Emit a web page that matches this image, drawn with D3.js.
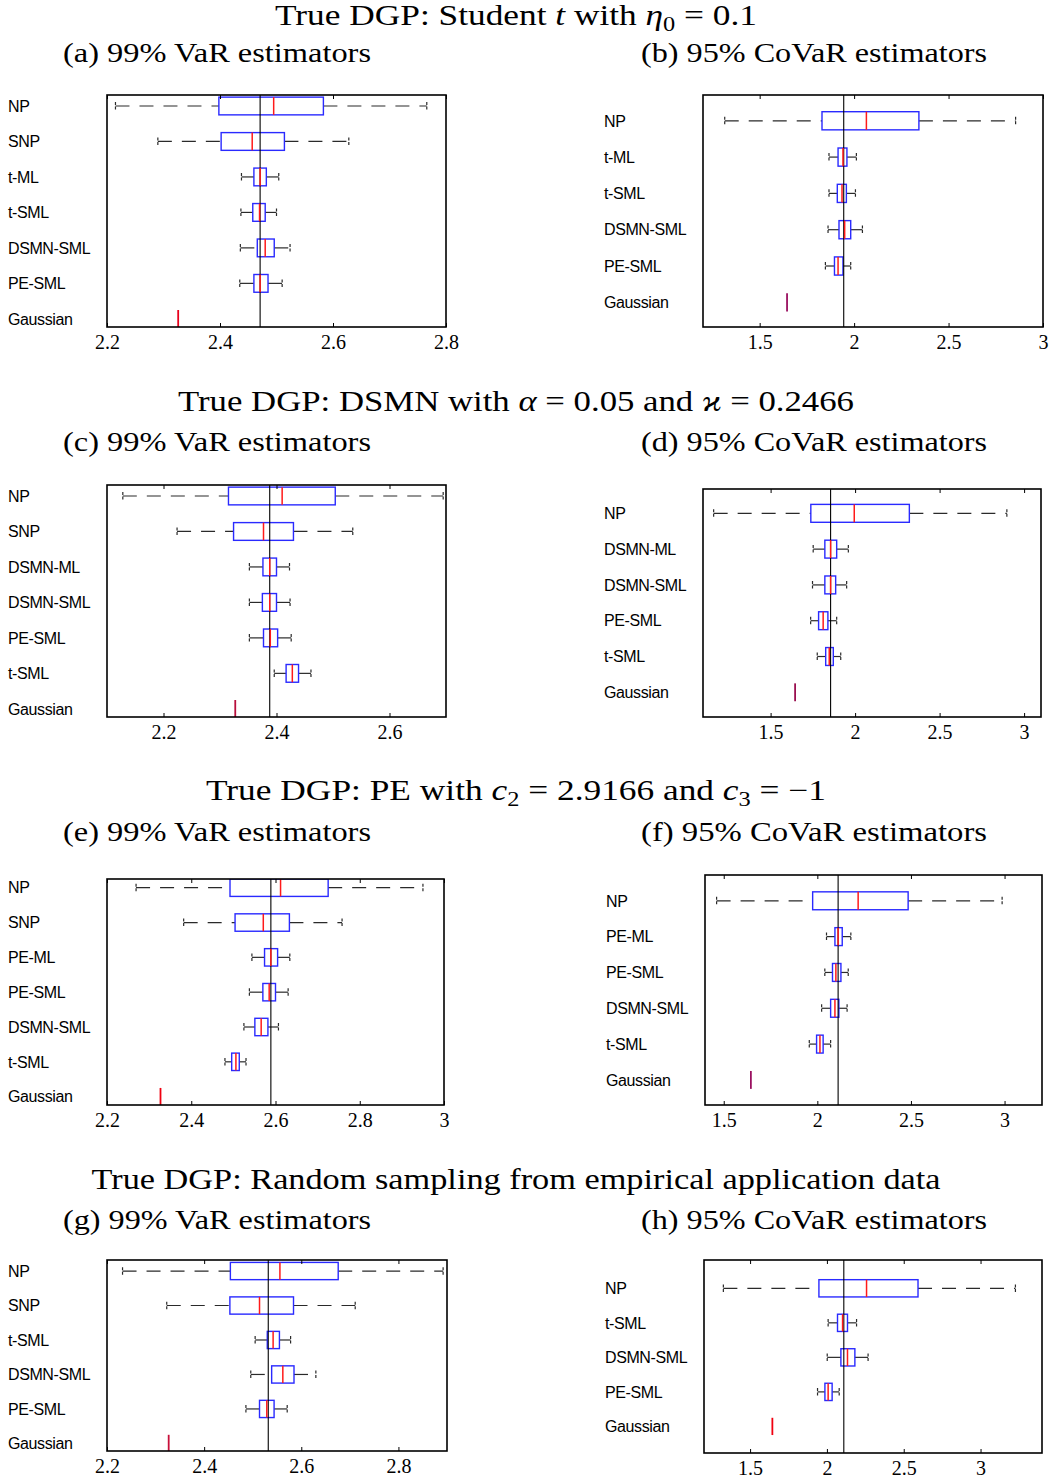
<!DOCTYPE html>
<html><head><meta charset="utf-8">
<script src="https://cdn.jsdelivr.net/npm/d3@7"></script>
<style>body{margin:0;background:#fff}</style>
</head><body>
<svg id="c" width="1054" height="1481" xmlns="http://www.w3.org/2000/svg"></svg>
<script>
// ---------- DATA (five-number summaries: [lower whisker, q1, median, q3, upper whisker]) ----------
const aLabels = ["NP","SNP","t-ML","t-SML","DSMN-SML","PE-SML","Gaussian"];
const aStats = [[2.215,2.398,2.495,2.583,2.766],[2.290,2.402,2.457,2.514,2.628],[2.438,2.460,2.471,2.482,2.504],
  [2.437,2.458,2.470,2.480,2.500],[2.436,2.466,2.480,2.496,2.524],[2.435,2.460,2.471,2.485,2.510],[2.326,2.326,2.326,2.326,2.326]];
const aTrue = 2.471, aTicks = [2.2,2.4,2.6,2.8];

const bLabels = ["NP","t-ML","t-SML","DSMN-SML","PE-SML","Gaussian"];
const bStats = [[1.315,1.830,2.065,2.343,2.855],[1.867,1.915,1.941,1.962,2.012],[1.867,1.911,1.936,1.959,2.007],
  [1.862,1.920,1.950,1.982,2.044],[1.848,1.896,1.915,1.941,1.982],[1.645,1.645,1.645,1.645,1.645]];
const bTrue = 1.945, bTicks = [1.5,2,2.5,3];

const cLabels = ["NP","SNP","DSMN-ML","DSMN-SML","PE-SML","t-SML","Gaussian"];
const cStats = [[2.128,2.315,2.410,2.504,2.695],[2.224,2.324,2.377,2.430,2.535],[2.352,2.376,2.388,2.400,2.423],
  [2.352,2.375,2.388,2.400,2.424],[2.352,2.377,2.389,2.402,2.426],[2.396,2.417,2.428,2.439,2.461],[2.327,2.327,2.327,2.327,2.327]];
const cTrue = 2.388, cTicks = [2.2,2.4,2.6];

const dLabels = ["NP","DSMN-ML","DSMN-SML","PE-SML","t-SML","Gaussian"];
const dStats = [[1.163,1.738,1.995,2.321,2.898],[1.752,1.821,1.855,1.891,1.960],[1.748,1.821,1.855,1.885,1.950],
  [1.737,1.784,1.811,1.839,1.891],[1.776,1.826,1.847,1.871,1.915],[1.645,1.645,1.645,1.645,1.645]];
const dTrue = 1.855, dTicks = [1.5,2,2.5,3];

const eLabels = ["NP","SNP","PE-ML","PE-SML","DSMN-SML","t-SML","Gaussian"];
const eStats = [[2.269,2.492,2.612,2.725,2.950],[2.382,2.504,2.571,2.633,2.758],[2.544,2.574,2.589,2.605,2.634],
  [2.538,2.570,2.585,2.600,2.630],[2.525,2.551,2.566,2.582,2.607],[2.480,2.496,2.506,2.514,2.530],[2.327,2.327,2.327,2.327,2.327]];
const eTrue = 2.589, eTicks = [2.2,2.4,2.6,2.8,3];

const fLabels = ["NP","PE-ML","PE-SML","DSMN-SML","t-SML","Gaussian"];
const fStats = [[1.462,1.975,2.218,2.485,2.987],[2.049,2.094,2.111,2.133,2.179],[2.040,2.081,2.099,2.126,2.165],
  [2.023,2.071,2.094,2.115,2.159],[1.957,1.996,2.014,2.031,2.071],[1.645,1.645,1.645,1.645,1.645]];
const fTrue = 2.111, fTicks = [1.5,2,2.5,3];

const gLabels = ["NP","SNP","t-SML","DSMN-SML","PE-SML","Gaussian"];
const gStats = [[2.232,2.454,2.556,2.676,2.892],[2.323,2.453,2.514,2.584,2.711],[2.505,2.530,2.542,2.555,2.578],
  [2.496,2.539,2.562,2.585,2.630],[2.486,2.514,2.529,2.544,2.571],[2.327,2.327,2.327,2.327,2.327]];
const gTrue = 2.532, gTicks = [2.2,2.4,2.6,2.8];

const hLabels = ["NP","t-SML","DSMN-SML","PE-SML","Gaussian"];
const hStats = [[1.326,1.948,2.258,2.593,3.227],[2.008,2.069,2.102,2.134,2.193],[2.002,2.091,2.134,2.182,2.268],
  [1.939,1.987,2.008,2.034,2.080],[1.645,1.645,1.645,1.645,1.645]];
const hTrue = 2.110, hTicks = [1.5,2,2.5,3];

// ---------- LAYOUT ----------
const svg = d3.select("#c");
const SERIF = "'Liberation Serif','DejaVu Serif',serif";
const SANS = "'Liberation Sans',Arial,sans-serif";

const panels = [
  {labels:aLabels, stats:aStats, tv:aTrue, ticks:aTicks, xd:[2.2,2.8], yd:[0.69,7.23], x0:107,x1:446,y0:95,y1:327, lx:8, gcol:"#e8001c"},
  {labels:bLabels, stats:bStats, tv:bTrue, ticks:bTicks, xd:[1.2,3.0], yd:[0.29,6.68], x0:703,x1:1043,y0:95,y1:327, lx:604, gcol:"#9a1060"},
  {labels:cLabels, stats:cStats, tv:cTrue, ticks:cTicks, xd:[2.1,2.7], yd:[0.69,7.23], x0:107,x1:446,y0:485,y1:717, lx:8, gcol:"#b80f3c"},
  {labels:dLabels, stats:dStats, tv:dTrue, ticks:dTicks, xd:[1.1,3.1], yd:[0.32,6.69], x0:703,x1:1041,y0:489,y1:717, lx:604, gcol:"#9a1050"},
  {labels:eLabels, stats:eStats, tv:eTrue, ticks:eTicks, xd:[2.2,3.0], yd:[0.75,7.24], x0:107,x1:444,y0:879,y1:1105, lx:8, gcol:"#f00010"},
  {labels:fLabels, stats:fStats, tv:fTrue, ticks:fTicks, xd:[1.4,3.2], yd:[0.28,6.70], x0:705,x1:1042,y0:875,y1:1105, lx:606, gcol:"#9a1060"},
  {labels:gLabels, stats:gStats, tv:gTrue, ticks:gTicks, xd:[2.2,2.9], yd:[0.68,6.22], x0:107,x1:447,y0:1260,y1:1451, lx:8, gcol:"#c8103a"},
  {labels:hLabels, stats:hStats, tv:hTrue, ticks:hTicks, xd:[1.2,3.4], yd:[0.18,5.77], x0:704,x1:1042,y0:1260,y1:1453, lx:605, gcol:"#f00010"}
];

const defs = svg.append("defs");

panels.forEach((p, pi) => {
  const x = d3.scaleLinear().domain(p.xd).range([p.x0, p.x1]);
  const y = d3.scaleLinear().domain(p.yd).range([p.y0, p.y1]);
  const bh = (y(2) - y(1)) * 0.5;
  const capH = bh * 0.45;
  const g = svg.append("g");
  defs.append("clipPath").attr("id","clip"+pi).append("rect")
    .attr("x",p.x0).attr("y",p.y0).attr("width",p.x1-p.x0).attr("height",p.y1-p.y0);
  const inner = g.append("g").attr("clip-path",`url(#clip${pi})`);

  // row labels
  g.selectAll("text.lab").data(p.labels).join("text").attr("class","lab")
    .attr("x", p.lx).attr("y", (d,i)=>y(i+1)).attr("dy","0.36em")
    .attr("font-family", SANS).attr("font-size", 16).attr("letter-spacing","-0.4")
    .attr("fill","#000").text(d=>d);

  // axes (ticks inside, top and bottom)
  const fmt = d => String(d);
  const ab = g.append("g").attr("transform",`translate(0,${p.y1})`)
    .call(d3.axisBottom(x).tickValues(p.ticks).tickSize(-4).tickPadding(8).tickFormat(fmt));
  const at = g.append("g").attr("transform",`translate(0,${p.y0})`)
    .call(d3.axisTop(x).tickValues(p.ticks).tickSize(-4).tickFormat(""));
  [ab,at].forEach(a=>{ a.select(".domain").remove(); a.selectAll("line").attr("stroke","#000").attr("stroke-width",1); });
  ab.selectAll("text").attr("font-family",SERIF).attr("font-size",20).attr("fill","#000");

  const rows = p.stats.map((s,i)=>({s, i, yc:y(i+1), deg: s[0]===s[4]}));
  const box = rows.filter(r=>!r.deg);
  const wcol = "#2a2a2a";
  // whiskers
  inner.selectAll("line.wl").data(box).join("line")
    .attr("x1",r=>x(r.s[0])).attr("x2",r=>x(r.s[1])).attr("y1",r=>r.yc).attr("y2",r=>r.yc)
    .attr("stroke",wcol).attr("stroke-width",1.2).attr("stroke-dasharray","14,10");
  inner.selectAll("line.wu").data(box).join("line")
    .attr("x1",r=>x(r.s[3])).attr("x2",r=>x(r.s[4])).attr("y1",r=>r.yc).attr("y2",r=>r.yc)
    .attr("stroke",wcol).attr("stroke-width",1.2).attr("stroke-dasharray","14,10");
  // caps
  ["lo","hi"].forEach((k,ki)=>{
    inner.selectAll("line.cap"+k).data(box).join("line")
      .attr("x1",r=>x(r.s[ki?4:0])).attr("x2",r=>x(r.s[ki?4:0]))
      .attr("y1",r=>r.yc-capH/2).attr("y2",r=>r.yc+capH/2)
      .attr("stroke",wcol).attr("stroke-width",1.2).attr("stroke-dasharray","3,1.5");
  });
  // boxes
  inner.selectAll("rect.bx").data(box).join("rect")
    .attr("x",r=>x(r.s[1])).attr("width",r=>x(r.s[3])-x(r.s[1]))
    .attr("y",r=>r.yc-bh/2).attr("height",bh)
    .attr("fill","none").attr("stroke","#2a2aff").attr("stroke-width",1.4);
  // true value line
  inner.append("line").attr("x1",x(p.tv)).attr("x2",x(p.tv)).attr("y1",p.y0).attr("y2",p.y1)
    .attr("stroke","#000").attr("stroke-width",1.1);
  // medians
  inner.selectAll("line.md").data(box).join("line")
    .attr("x1",r=>x(r.s[2])).attr("x2",r=>x(r.s[2])).attr("y1",r=>r.yc-bh/2).attr("y2",r=>r.yc+bh/2)
    .attr("stroke","#ff1a1a").attr("stroke-width",1.5);
  // degenerate (Gaussian)
  inner.selectAll("line.gs").data(rows.filter(r=>r.deg)).join("line")
    .attr("x1",r=>x(r.s[2])).attr("x2",r=>x(r.s[2])).attr("y1",r=>r.yc-bh/2).attr("y2",r=>r.yc+bh/2)
    .attr("stroke",p.gcol).attr("stroke-width",1.8);
  // frame
  g.append("rect").attr("x",p.x0).attr("y",p.y0).attr("width",p.x1-p.x0).attr("height",p.y1-p.y0)
    .attr("fill","none").attr("stroke","#000").attr("stroke-width",1.6);
});

// ---------- TITLES ----------
const titles = [
  {y:25, w:482, parts:[["True DGP: Student ",""],["t","i"],[" with ",""],["η","i"],["0","sub"],[" = 0.1",""]]},
  {y:411, w:676, parts:[["True DGP: DSMN with ",""],["α","i"],[" = 0.05 and ",""],["ϰ","i"],[" = 0.2466",""]]},
  {y:800, w:620, parts:[["True DGP: PE with ",""],["c","i"],["2","sub"],[" = 2.9166 and ",""],["c","i"],["3","sub"],[" = −1",""]]},
  {y:1189, w:849, parts:[["True DGP: Random sampling from empirical application data",""]]}
];
const subtitles = [
  {y:62, l:"(a) 99% VaR estimators", r:"(b) 95% CoVaR estimators"},
  {y:451, l:"(c) 99% VaR estimators", r:"(d) 95% CoVaR estimators"},
  {y:841, l:"(e) 99% VaR estimators", r:"(f) 95% CoVaR estimators"},
  {y:1229, l:"(g) 99% VaR estimators", r:"(h) 95% CoVaR estimators"}
];
titles.forEach(t=>{
  const tx = svg.append("text").attr("x",516).attr("y",t.y).attr("text-anchor","middle")
    .attr("font-family",SERIF).attr("font-size",29).attr("fill","#000")
    .attr("textLength",t.w).attr("lengthAdjust","spacingAndGlyphs");
  let prevSub = false;
  t.parts.forEach(([s,st])=>{
    const ts = tx.append("tspan").text(s);
    if(st==="i") ts.attr("font-style","italic");
    if(st==="sub"){ ts.attr("font-size",20).attr("dy",6); }
    else if(prevSub){ ts.attr("dy",-6); }
    prevSub = st==="sub";
  });
});
subtitles.forEach(s=>{
  svg.append("text").attr("x",217).attr("y",s.y).attr("text-anchor","middle")
    .attr("font-family",SERIF).attr("font-size",27).attr("fill","#000")
    .attr("textLength",308).attr("lengthAdjust","spacingAndGlyphs").text(s.l);
  svg.append("text").attr("x",814).attr("y",s.y).attr("text-anchor","middle")
    .attr("font-family",SERIF).attr("font-size",27).attr("fill","#000")
    .attr("textLength",346).attr("lengthAdjust","spacingAndGlyphs").text(s.r);
});
</script>
</body></html>
